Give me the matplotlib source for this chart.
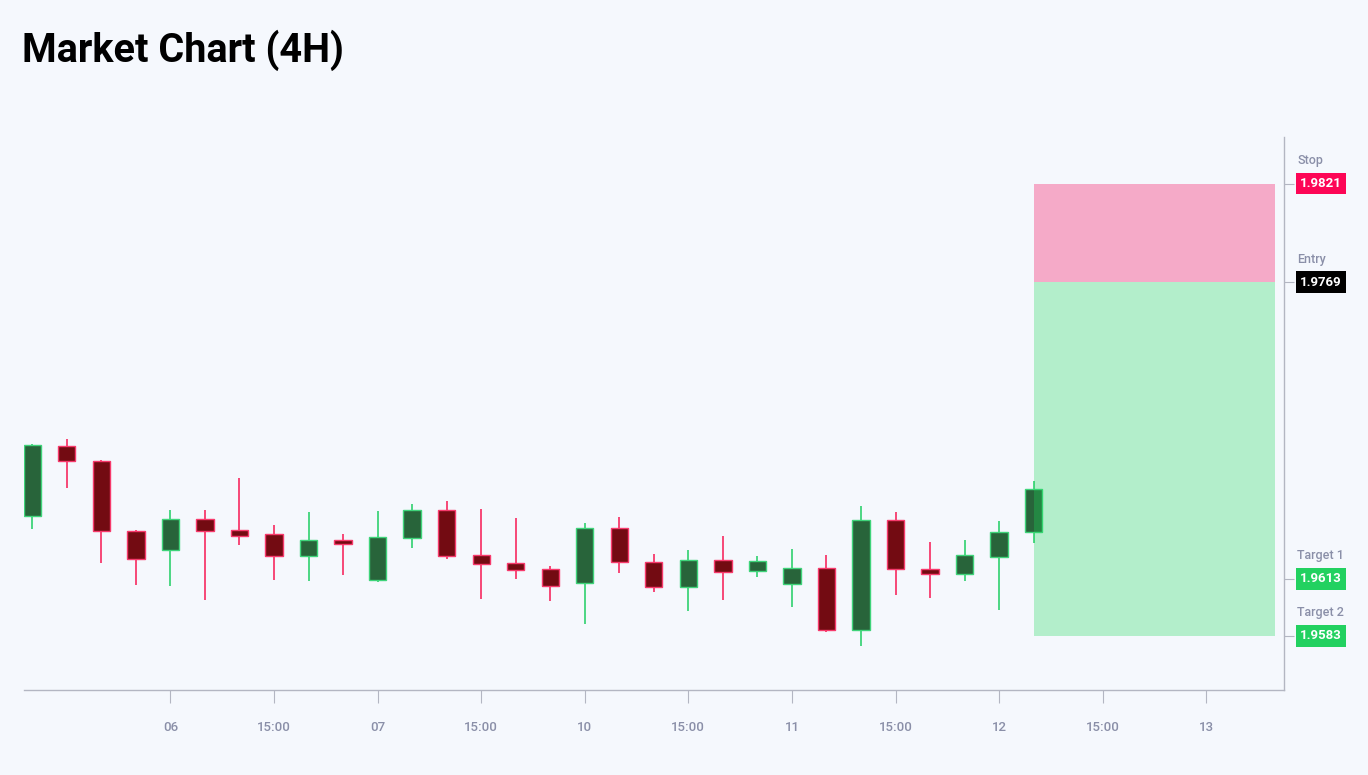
import matplotlib
matplotlib.use("Agg")
import matplotlib.pyplot as plt
from matplotlib.patches import Rectangle

# ---------------- data ----------------
opens  = [1.96461, 1.96830, 1.96751, 1.96381, 1.96282, 1.96444, 1.96386, 1.96363, 1.96248, 1.96333,
          1.96124, 1.96342, 1.96490, 1.96254, 1.96212, 1.96182, 1.96105, 1.96398, 1.96219, 1.96086,
          1.96228, 1.96169, 1.96103, 1.96188, 1.95860, 1.96440, 1.96181, 1.96153, 1.96242, 1.96374]
highs  = [1.96837, 1.96865, 1.96755, 1.96384, 1.96491, 1.96491, 1.96661, 1.96412, 1.96479, 1.96365,
          1.96488, 1.96524, 1.96539, 1.96497, 1.96451, 1.96197, 1.96421, 1.96456, 1.96261, 1.96282,
          1.96356, 1.96251, 1.96288, 1.96254, 1.96514, 1.96479, 1.96324, 1.96335, 1.96433, 1.96646]
lows   = [1.96390, 1.96605, 1.96211, 1.96095, 1.96090, 1.96016, 1.96307, 1.96121, 1.96119, 1.96151,
          1.96114, 1.96290, 1.96232, 1.96023, 1.96130, 1.96011, 1.95891, 1.96158, 1.96061, 1.95961,
          1.96016, 1.96140, 1.95982, 1.95851, 1.95777, 1.96042, 1.96030, 1.96118, 1.95965, 1.96316]
closes = [1.96833, 1.96749, 1.96381, 1.96232, 1.96445, 1.96382, 1.96353, 1.96249, 1.96332, 1.96311,
          1.96351, 1.96491, 1.96251, 1.96209, 1.96175, 1.96090, 1.96397, 1.96216, 1.96086, 1.96228,
          1.96166, 1.96224, 1.96186, 1.95858, 1.96440, 1.96179, 1.96154, 1.96256, 1.96375, 1.96602]

tick_pos    = [4, 7, 10, 13, 16, 19, 22, 25, 28, 31, 34]
tick_labels = ["06", "15:00", "07", "15:00", "10", "15:00", "11", "15:00", "12", "15:00", "13"]

stop_price    = 1.9821
entry_price   = 1.9769
target1_price = 1.9613
target2_price = 1.9583
level_names   = ["Stop", "Entry", "Target 1", "Target 2"]
level_prices  = [stop_price, entry_price, target1_price, target2_price]
level_colors  = ["#fd0656", "#000000", "#22d160", "#22d160"]

box_start, box_end = 29, 36

title = "Market Chart (4H)"

# ---------------- style ----------------
BG = "#f5f8fd"
UP_BODY, UP_EDGE = "#28643a", "#3fd47a"
DN_BODY, DN_EDGE = "#730b12", "#f73a6c"
AXIS_C = "#b3b6c2"
TEXT_C = "#8a8fa8"

plt.rcParams['font.family'] = ['Roboto', 'DejaVu Sans']

fig = plt.figure(figsize=(13.68, 7.75), dpi=100, facecolor=BG)
ax = fig.add_axes([24/1368, 1-690/775, 1260/1368, (690-137)/775])
ax.set_facecolor(BG)

bw = 0.5
for i, (o, h, l, c) in enumerate(zip(opens, highs, lows, closes)):
    up = c >= o
    body, edge = (UP_BODY, UP_EDGE) if up else (DN_BODY, DN_EDGE)
    ax.vlines(i, l, h, color=edge, linewidth=1.3, zorder=2)
    ax.add_patch(Rectangle((i - bw/2, min(o, c)), bw, abs(c - o),
                           facecolor=body, edgecolor=edge, linewidth=1.0, zorder=3))

# position boxes
ax.add_patch(Rectangle((box_start, entry_price), box_end - box_start, stop_price - entry_price,
                       facecolor="#f51965", alpha=0.35, edgecolor='none', zorder=4))
ax.add_patch(Rectangle((box_start, target2_price), box_end - box_start, entry_price - target2_price,
                       facecolor="#1cda5a", alpha=0.30, edgecolor='none', zorder=4))

ax.set_xlim(-0.24, 36.25)
ax.set_ylim(1.95544, 1.98455)

for s in ["left", "top"]:
    ax.spines[s].set_visible(False)
for s in ["bottom", "right"]:
    ax.spines[s].set_color(AXIS_C)
    ax.spines[s].set_linewidth(1.0)

ax.set_xticks(tick_pos)
ax.set_xticklabels(tick_labels)
ax.tick_params(axis='x', direction='out', length=9, width=0.8, color=AXIS_C,
               labelcolor=TEXT_C, labelsize=9.5, pad=13)
for t in ax.get_xticklabels():
    t.set_fontweight('medium')

ax.yaxis.tick_right()
ax.set_yticks(level_prices)
ax.set_yticklabels([])
ax.tick_params(axis='y', direction='out', length=7, width=0.8, color=AXIS_C)

tr = ax.get_yaxis_transform()
xl = (1297 - 24) / 1260
xc = (1321 - 24) / 1260
for name, p, col in zip(level_names, level_prices, level_colors):
    ax.text(xl, p + 0.00122, name, transform=tr, ha='left', va='center',
            fontsize=9, color=TEXT_C, fontweight='medium', clip_on=False)
    ax.text(xc, p, f"{p:.4f}", transform=tr, ha='center', va='center',
            fontsize=9.5, color='white', fontweight='bold', clip_on=False,
            bbox=dict(boxstyle='square,pad=0.33', facecolor=col, edgecolor='none'))

fig.text(22/1368, 1 - 62/775, title, ha='left', va='baseline',
         fontsize=28.5, fontweight='bold', color='#000000')

fig.savefig("out.png", dpi=100, facecolor=BG)
